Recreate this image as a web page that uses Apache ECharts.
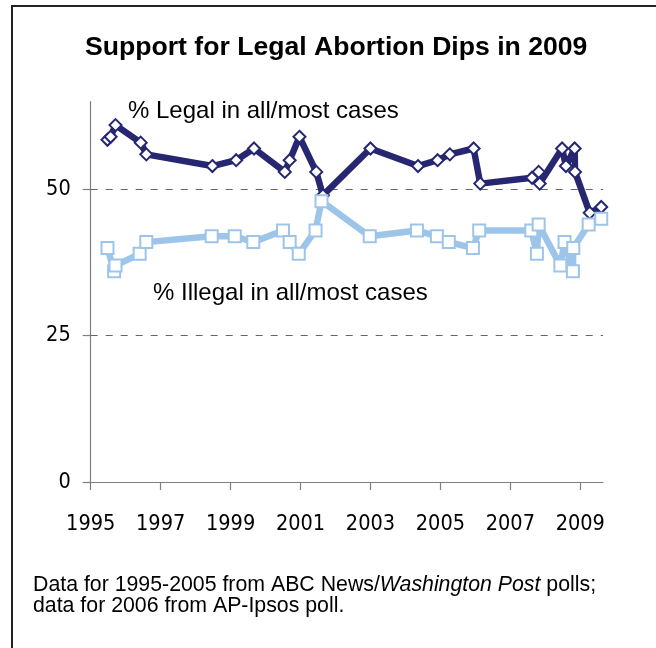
<!DOCTYPE html>
<html>
<head>
<meta charset="utf-8">
<script src="https://cdn.jsdelivr.net/npm/echarts@6/dist/echarts.min.js"></script>
<style>
html,body{margin:0;padding:0;background:#fff;}
#chart{width:656px;height:648px;}
</style>
</head>
<body>
<div id="chart"></div>
<script>
// ---- data ----
const legalYears  = [1995.48, 1995.57, 1995.71, 1996.43, 1996.59, 1998.48, 1999.16, 1999.67, 2000.55, 2000.69, 2000.97, 2001.45, 2001.64, 2003.00, 2004.36, 2004.92, 2005.27, 2005.95, 2006.14, 2007.62, 2007.81, 2007.84, 2008.48, 2008.59, 2008.84, 2008.85, 2009.27, 2009.60];
const legalValues = [58.5, 59, 61, 58, 56, 54, 55, 57, 53, 55, 59, 53, 49, 57, 54, 55, 56, 57, 51, 52, 53, 51, 57, 54, 57, 53, 46, 47];

const illegalYears  = [1995.48, 1995.67, 1995.71, 1996.40, 1996.59, 1998.46, 1999.12, 1999.65, 2000.50, 2000.69, 2000.95, 2001.43, 2001.60, 2002.98, 2004.33, 2004.90, 2005.24, 2005.93, 2006.11, 2007.60, 2007.76, 2007.81, 2008.43, 2008.55, 2008.79, 2008.80, 2009.24, 2009.60];
const illegalValues = [40, 36, 37, 39, 41, 42, 42, 41, 43, 41, 39, 43, 48, 42, 43, 42, 41, 40, 43, 43, 39, 44, 37, 41, 36, 40, 44, 45];

const xTicks = [1995, 1997, 1999, 2001, 2003, 2005, 2007, 2009];
const yTicks = [0, 25, 50];
const refLines = [25, 50];

const titleText = 'Support for Legal Abortion Dips in 2009';
const legalLabel = '% Legal in all/most cases';
const illegalLabel = '% Illegal in all/most cases';

// ---- chart ----
const NAVY = '#262770';
const LIGHT = '#9dc5ea';
const FONT = "'Liberation Sans', Arial, sans-serif";
const AXFONT = "'DejaVu Sans Condensed', 'Liberation Sans Narrow', sans-serif";

const legalData = legalYears.map((x, i) => [x, legalValues[i]]);
const illegalData = illegalYears.map((x, i) => [x, illegalValues[i]]);

const chart = echarts.init(document.getElementById('chart'), null, {renderer: 'canvas'});
chart.setOption({
  animation: false,
  backgroundColor: '#fff',
  title: {
    text: titleText,
    left: 85, top: 34, padding: 0,
    textStyle: {fontFamily: FONT, fontSize: 26.6, fontWeight: 'bold', color: '#000'}
  },
  grid: {left: 90.7, right: 53, top: 101.7, bottom: 166, containLabel: false},
  xAxis: {
    type: 'value',
    min: 1995, max: 2009.65, interval: 2,
    axisLine: {show: true, lineStyle: {color: '#7f7f7f', width: 1.2}},
    axisTick: {show: true, length: 8, inside: false, customValues: xTicks, lineStyle: {color: '#7f7f7f', width: 1.2}},
    axisLabel: {customValues: xTicks, formatter: v => String(Math.round(v)), margin: 31, fontFamily: AXFONT, fontSize: 21.5, color: '#000'},
    splitLine: {show: false}
  },
  yAxis: {
    type: 'value',
    min: 0, max: 65, interval: 25,
    axisLine: {show: true, lineStyle: {color: '#7f7f7f', width: 1.2}},
    axisTick: {show: true, length: 8, inside: false, customValues: yTicks, lineStyle: {color: '#7f7f7f', width: 1.2}},
    axisLabel: {customValues: yTicks, margin: 20, fontFamily: AXFONT, fontSize: 21.5, color: '#000', padding: [6, 0, 0, 0]},
    splitLine: {show: false}
  },
  series: [
    {
      name: legalLabel,
      type: 'line',
      data: legalData,
      symbol: 'diamond',
      symbolSize: 12,
      showAllSymbol: true,
      lineStyle: {color: NAVY, width: 6.5},
      itemStyle: {color: '#fff', borderColor: NAVY, borderWidth: 2},
      z: 3,
      markLine: {
        silent: true,
        symbol: ['none', 'none'],
        label: {show: false},
        lineStyle: {color: '#666', type: [7, 8], width: 1.2},
        data: refLines.map(v => ({yAxis: v})),
        z: 1
      }
    },
    {
      name: illegalLabel,
      type: 'line',
      data: illegalData,
      symbol: 'rect',
      symbolSize: 12,
      showAllSymbol: true,
      lineStyle: {color: LIGHT, width: 6.5},
      itemStyle: {color: '#fff', borderColor: LIGHT, borderWidth: 2},
      z: 4
    }
  ],
  graphic: [
    {type: 'line', shape: {x1: 11, y1: 6, x2: 656, y2: 6}, style: {stroke: '#222', lineWidth: 2}},
    {type: 'line', shape: {x1: 12, y1: 5, x2: 12, y2: 648}, style: {stroke: '#222', lineWidth: 2}},
    {type: 'text', x: 128, y: 111, style: {text: legalLabel, fontFamily: FONT, fontSize: 24, fill: '#000', verticalAlign: 'middle'}},
    {type: 'text', x: 153, y: 293, style: {text: illegalLabel, fontFamily: FONT, fontSize: 24, fill: '#000', verticalAlign: 'middle'}},
    {type: 'text', x: 33, y: 585, style: {
      text: 'Data for 1995-2005 from ABC News/{i|Washington Post} polls;',
      fontFamily: FONT, fontSize: 21.3, fill: '#000', verticalAlign: 'middle',
      rich: {i: {fontFamily: FONT, fontSize: 21.3, fontStyle: 'italic', fill: '#000'}}
    }},
    {type: 'text', x: 33, y: 606, style: {text: 'data for 2006 from AP-Ipsos poll.', fontFamily: FONT, fontSize: 21.3, fill: '#000', verticalAlign: 'middle'}}
  ]
});
</script>
</body>
</html>
